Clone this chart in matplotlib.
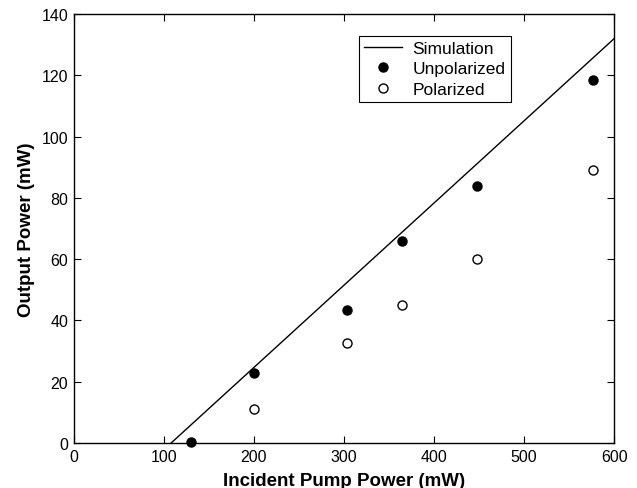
import numpy as np
import matplotlib
matplotlib.use("Agg")
import matplotlib.pyplot as plt

plt.rcParams['font.family'] = ['Liberation Sans', 'DejaVu Sans']

# 数据
sim_x = [108, 600]
sim_y = [0, 132]

unpol_x = [130, 200, 303, 365, 448, 577]
unpol_y = [0.4, 23, 43.5, 66, 84, 118.5]

pol_x = [200, 303, 365, 448, 577]
pol_y = [11, 32.5, 45, 60, 89]

xticks = [0, 100, 200, 300, 400, 500, 600]
yticks = [0, 20, 40, 60, 80, 100, 120, 140]

fig = plt.figure(figsize=(6.37, 4.89), dpi=100)
ax = fig.add_axes([0.116, 0.092, 0.848, 0.877])

ax.plot(sim_x, sim_y, color='black', lw=1.0, label='Simulation')
ax.plot(unpol_x, unpol_y, 'o', color='black', ms=6.5, label='Unpolarized', clip_on=False)
ax.plot(pol_x, pol_y, 'o', mfc='white', mec='black', mew=1.0, ms=6.5, label='Polarized')

ax.set_xlim(0, 600)
ax.set_ylim(0, 140)
ax.set_xticks(xticks)
ax.set_yticks(yticks)
ax.tick_params(direction='in', top=True, right=True, length=5, labelsize=11.5, width=0.8, pad=4)
for s in ax.spines.values():
    s.set_linewidth(1.0)

ax.set_xlabel('Incident Pump Power (mW)', fontsize=13.5, fontweight='bold', labelpad=6)
ax.set_ylabel('Output Power (mW)', fontsize=13.5, fontweight='bold', labelpad=5)

leg = ax.legend(loc='upper left', bbox_to_anchor=(0.527, 0.95), fontsize=12.5,
                fancybox=False, edgecolor='black', framealpha=1,
                borderpad=0.3, labelspacing=0.3, handlelength=2.2, handletextpad=0.6,
                borderaxespad=0)
leg.get_frame().set_linewidth(0.8)

plt.savefig('out.png', dpi=100)
